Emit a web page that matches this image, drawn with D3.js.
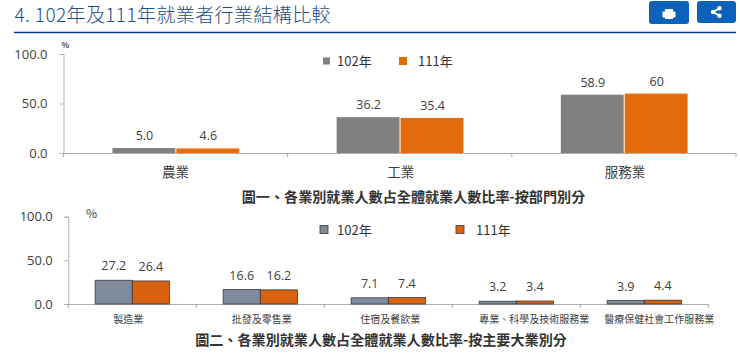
<!DOCTYPE html>
<html>
<head>
<meta charset="utf-8">
<script src="https://cdn.jsdelivr.net/npm/d3@7"></script>
<style>
html, body { margin: 0; padding: 0; background: #fff; }
svg { display: block; }
text { font-family: "Noto Sans CJK TC", "Noto Sans", sans-serif; }
.num { font-family: "Open Sans", "Noto Sans", sans-serif; }
</style>
</head>
<body>
<div class="svg-container"></div>
<script>
//Data
const seriesNames = ['102年', '111年'];
const yTicks = [0, 50, 100];

const sectorCategories = ['農業', '工業', '服務業'];
const sector102 = [5.0, 36.2, 58.9];
const sector111 = [4.6, 35.4, 60];
const sector102Labels = ['5.0', '36.2', '58.9'];
const sector111Labels = ['4.6', '35.4', '60'];

const industryCategories = ['製造業', '批發及零售業', '住宿及餐飲業', '專業、科學及技術服務業', '醫療保健社會工作服務業'];
const industry102 = [27.2, 16.6, 7.1, 3.2, 3.9];
const industry111 = [26.4, 16.2, 7.4, 3.4, 4.4];
const industry102Labels = ['27.2', '16.6', '7.1', '3.2', '3.9'];
const industry111Labels = ['26.4', '16.2', '7.4', '3.4', '4.4'];

const svg = d3.select('.svg-container')
    .append('svg')
    .attr('width', 740)
    .attr('height', 356);

//Header
svg.append('text')
    .attr('x', 14.5)
    .attr('y', 22)
    .attr('font-size', 19)
    .attr('letter-spacing', 0.4)
    .attr('font-weight', 300)
    .attr('fill', '#1c4f8a')
    .text('4. 102年及111年就業者行業結構比較');

svg.append('line')
    .attr('x1', 14).attr('x2', 736)
    .attr('y1', 32.5).attr('y2', 32.5)
    .attr('stroke', '#0d3b86')
    .attr('stroke-width', 1.3);

//Buttons
const buttons = svg.append('g').attr('fill', '#0a62b9');
buttons.append('rect').attr('x', 649).attr('y', 1).attr('width', 40).attr('height', 23).attr('rx', 3);
buttons.append('rect').attr('x', 697).attr('y', 1).attr('width', 39).attr('height', 22).attr('rx', 3);

const printIcon = svg.append('g').attr('fill', '#fff').attr('transform', 'translate(669 14)');
printIcon.append('rect').attr('x', -6.5).attr('y', -2.5).attr('width', 13).attr('height', 6).attr('rx', 1);
printIcon.append('rect').attr('x', -4).attr('y', -5).attr('width', 8).attr('height', 3);
printIcon.append('rect').attr('x', -4).attr('y', 1.5).attr('width', 8).attr('height', 3.5);

const shareIcon = svg.append('g').attr('transform', 'translate(716.5 12)');
shareIcon.append('path')
    .attr('d', 'M3 -3.8 L-3.5 0 L3 3.8')
    .attr('fill', 'none')
    .attr('stroke', '#fff')
    .attr('stroke-width', 1.8);
shareIcon.selectAll('circle')
    .data([[3, -3.8], [-3.5, 0], [3, 3.8]])
    .enter()
    .append('circle')
    .attr('cx', d => d[0])
    .attr('cy', d => d[1])
    .attr('r', 2.2)
    .attr('fill', '#fff');

//Draws one of the two charts
function drawChart(cfg) {
    const xScale = d3.scaleBand()
        .domain(cfg.categories)
        .range([cfg.left, cfg.right]);

    const yScale = d3.scaleLinear()
        .domain([0, 100])
        .range([cfg.bottom, cfg.top]);

    const inner = d3.scaleBand()
        .domain(seriesNames)
        .range([0, xScale.bandwidth() * cfg.barShare]);
    const barOffset = xScale.bandwidth() * (1 - cfg.barShare) / 2 + cfg.barShift;

    const yAxisDraw = svg.append('g')
        .attr('transform', `translate(${cfg.left}, 0)`)
        .call(d3.axisLeft(yScale).tickValues(yTicks).tickFormat(d3.format('.1f')).tickSize(4).tickSizeOuter(4).tickPadding(cfg.yPad));

    const xAxisDraw = svg.append('g')
        .attr('transform', `translate(0, ${cfg.bottom})`)
        .call(d3.axisBottom(xScale).tickSize(0).tickPadding(cfg.xPad));

    //ticks go between the categories, not at the centres
    xAxisDraw.selectAll('.sep')
        .data(d3.range(cfg.categories.length + 1))
        .enter()
        .append('line')
        .attr('class', 'sep')
        .attr('x1', i => cfg.left + i * xScale.step())
        .attr('x2', i => cfg.left + i * xScale.step())
        .attr('y1', 0)
        .attr('y2', 4)
        .attr('stroke', '#a6a6a6');

    yAxisDraw.selectAll('path, line').attr('stroke', '#b0b0b0');
    xAxisDraw.select('path').attr('stroke', '#b0b0b0');
    yAxisDraw.selectAll('text')
        .attr('class', 'num')
        .attr('font-size', cfg.yFont)
        .attr('fill', cfg.yColor);
    xAxisDraw.selectAll('.tick text')
        .attr('font-size', cfg.xFont)
        .attr('fill', cfg.xColor)
        .attr('dx', (d, i) => cfg.xLabelShift[i]);

    cfg.series.forEach((s, si) => {
        const name = seriesNames[si];
        svg.selectAll(null)
            .data(s.values)
            .enter()
            .append('rect')
            .attr('x', (d, i) => xScale(cfg.categories[i]) + barOffset + inner(name))
            .attr('y', d => yScale(d))
            .attr('width', inner.bandwidth() - cfg.barGap)
            .attr('height', d => cfg.bottom - yScale(d))
            .attr('fill', s.color)
            .attr('stroke', cfg.barStroke)
            .attr('stroke-width', cfg.barStroke === 'none' ? 0 : 0.8);

        svg.selectAll(null)
            .data(s.values)
            .enter()
            .append('text')
            .attr('class', 'num')
            .attr('x', (d, i) => xScale(cfg.categories[i]) + barOffset + inner(name) + inner.bandwidth() / 2)
            .attr('y', d => yScale(d) - cfg.labelGap)
            .attr('text-anchor', 'middle')
            .attr('font-size', cfg.labelFont)
            .attr('fill', cfg.yColor)
            .text((d, i) => s.labels[i]);
    });

    //Legend
    cfg.legendBoxX.forEach((x, i) => {
        svg.append('rect')
            .attr('x', x)
            .attr('y', cfg.legendY - cfg.legendBox[i] / 2)
            .attr('width', cfg.legendBox[i])
            .attr('height', cfg.legendBox[i])
            .attr('fill', cfg.series[i].color)
            .attr('stroke', cfg.barStroke)
            .attr('stroke-width', cfg.barStroke === 'none' ? 0 : 0.8);
        svg.append('text')
            .attr('x', cfg.legendTextX[i])
            .attr('y', cfg.legendY + 5)
            .attr('font-size', 13)
            .attr('fill', '#333')
            .text(seriesNames[i]);
    });

    //Unit
    svg.append('text')
        .attr('x', cfg.unitX)
        .attr('y', cfg.unitY)
        .attr('font-size', cfg.unitFont)
        .attr('font-weight', cfg.unitWeight)
        .attr('fill', '#444')
        .text('%');

    //Caption
    svg.append('text')
        .attr('x', cfg.captionX)
        .attr('y', cfg.captionY)
        .attr('text-anchor', 'middle')
        .attr('font-size', 14.1)
        .attr('font-weight', 700)
        .attr('fill', '#333')
        .text(cfg.caption);
}

drawChart({
    categories: sectorCategories,
    series: [
        {values: sector102, labels: sector102Labels, color: '#808080'},
        {values: sector111, labels: sector111Labels, color: '#e46c0a'}
    ],
    left: 63.5, right: 736, top: 54, bottom: 153,
    barShare: 0.57, barShift: 0.8, barGap: 1, barStroke: 'none',
    yPad: 12, yFont: 13, yColor: '#404040',
    xPad: 14, xFont: 13.5, xColor: '#404040', xLabelShift: [0, 1, 1],
    labelFont: 12.5, labelGap: 8,
    legendBoxX: [323, 399], legendBox: [7, 8], legendTextX: [337, 418], legendY: 61,
    unitX: 61.5, unitY: 48, unitFont: 8, unitWeight: 700,
    caption: '圖一、各業別就業人數占全體就業人數比率-按部門別分',
    captionX: 413.5, captionY: 202
});

drawChart({
    categories: industryCategories,
    series: [
        {values: industry102, labels: industry102Labels, color: '#7f8a9b'},
        {values: industry111, labels: industry111Labels, color: '#d8620f'}
    ],
    left: 68.3, right: 708.3, top: 216.7, bottom: 304,
    barShare: 0.58, barShift: 0, barGap: 0, barStroke: '#3a3a3a',
    yPad: 11.5, yFont: 13, yColor: '#404040',
    xPad: 12, xFont: 10, xColor: '#404040', xLabelShift: [-4, 1.5, 2, 18, 15],
    labelFont: 12.5, labelGap: 10,
    legendBoxX: [320, 456], legendBox: [8, 8], legendTextX: [337, 476], legendY: 229.5,
    unitX: 86, unitY: 218, unitFont: 12, unitWeight: 400,
    caption: '圖二、各業別就業人數占全體就業人數比率-按主要大業別分',
    captionX: 381, captionY: 345
});
</script>
</body>
</html>
